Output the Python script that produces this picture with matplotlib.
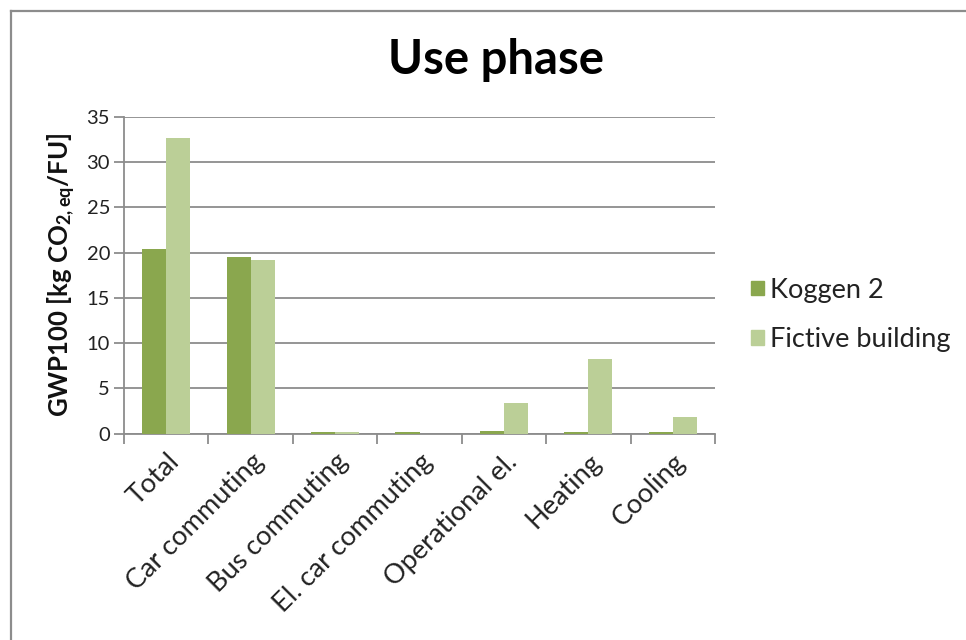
import matplotlib
matplotlib.use("Agg")
import matplotlib.pyplot as plt
import numpy as np
from matplotlib.lines import Line2D
from matplotlib.patches import Patch

categories = ["Total", "Car commuting", "Bus commuting", "El. car commuting",
              "Operational el.", "Heating", "Cooling"]
koggen2 = [20.4, 19.5, 0.2, 0.2, 0.35, 0.2, 0.2]
fictive = [32.6, 19.2, 0.15, 0.0, 3.4, 8.3, 1.8]
series_names = ["Koggen 2", "Fictive building"]
yticks = [0, 5, 10, 15, 20, 25, 30, 35]

FONT = "Lato"
plt.rcParams["font.family"] = [FONT, "DejaVu Sans"]
plt.rcParams["mathtext.fontset"] = "custom"
plt.rcParams["mathtext.rm"] = FONT
plt.rcParams["mathtext.bf"] = FONT + ":bold"
plt.rcParams["mathtext.it"] = FONT + ":italic"

W, H = 966, 640
fig = plt.figure(figsize=(W / 100, H / 100), dpi=100)

# outer chart frame (left and top edges visible)
fig.add_artist(Line2D([11 / W, 11 / W], [0, 1 - 11 / H], color="#8c8c8c", lw=1.6,
                      transform=fig.transFigure))
fig.add_artist(Line2D([11 / W, 1], [1 - 11 / H, 1 - 11 / H], color="#8c8c8c", lw=1.6,
                      transform=fig.transFigure))

left, right, top, bottom = 124, 715, 116.7, 433.7
ax = fig.add_axes([left / W, 1 - bottom / H, (right - left) / W, (bottom - top) / H])

x = np.arange(len(categories))
bw = 1 / 3.5
ax.bar(x - bw / 2, koggen2, bw, color="#8aa74e", label=series_names[0], zorder=3)
ax.bar(x + bw / 2, fictive, bw, color="#bbcf97", label=series_names[1], zorder=3)

ax.set_xlim(-0.5, len(categories) - 0.5)
ax.set_ylim(0, 35)
ax.set_yticks(yticks)
ax.set_yticklabels([str(v) for v in yticks], fontsize=14.5, color="#222222")
ax.yaxis.grid(True, color="#8c8c8c", lw=1.3, zorder=0)
ax.set_axisbelow(True)

ax.set_xticks(np.arange(len(categories) + 1) - 0.5, minor=False)
ax.set_xticklabels([])
ax.set_xticks(x, minor=True)
ax.set_xticklabels(categories, minor=True, rotation=45, ha="right",
                   rotation_mode="anchor", fontsize=19.5, color="#222222")
ax.tick_params(axis="x", which="major", length=7, direction="out", color="#8c8c8c", width=1.3)
ax.tick_params(axis="x", which="minor", length=0, pad=11)
ax.tick_params(axis="y", length=7, direction="out", color="#8c8c8c", width=1.3, pad=3)

for s in ["top", "right"]:
    ax.spines[s].set_visible(False)
for s in ["left", "bottom"]:
    ax.spines[s].set_color("#8c8c8c")
    ax.spines[s].set_linewidth(1.3)

ax.set_ylabel(r"GWP100 [kg CO$_{\mathbf{2,eq}}$/FU]", fontsize=18.5, fontweight="bold",
              color="#111111", labelpad=6)

fig.text(496 / W, 1 - 60 / H, "Use phase", fontsize=34, fontweight="bold",
         ha="center", va="center", color="#000000")

handles = [Patch(color="#8aa74e"), Patch(color="#bbcf97")]
fig.legend(handles, series_names, loc="center left", bbox_to_anchor=(727 / W, 1 - 315 / H),
           frameon=False, fontsize=19.5, handlelength=0.45, handleheight=0.45,
           handletextpad=0.25, labelspacing=0.9, labelcolor="#222222")

fig.savefig("out.png", dpi=100, facecolor="white")
